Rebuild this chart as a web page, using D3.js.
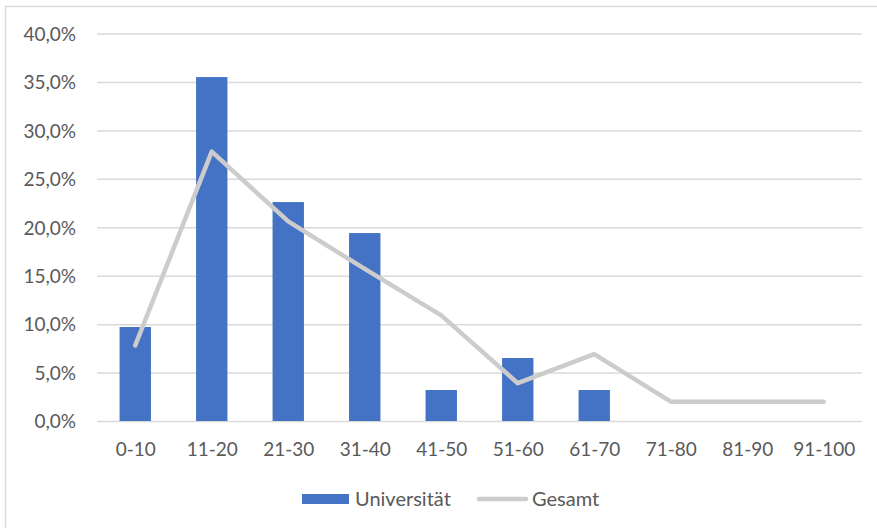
<!DOCTYPE html>
<html>
<head>
<meta charset="utf-8">
<script src="https://cdn.jsdelivr.net/npm/d3@7/dist/d3.min.js"></script>
<style>
  html, body { margin: 0; padding: 0; background: #fff; }
  svg { display: block; }
  text { font-family: Lato, "Open Sans", "Liberation Sans", sans-serif; fill: #595959; }
</style>
</head>
<body>
<svg id="chart" width="877" height="528"></svg>
<script>
// Altersgruppen (Kategorien der x-Achse)
const categories = ["0-10", "11-20", "21-30", "31-40", "41-50", "51-60", "61-70", "71-80", "81-90", "91-100"];
// Anteil je Gruppe in Prozent
const universitaet = [9.7, 35.5, 22.6, 19.4, 3.2, 6.5, 3.2, 0, 0, 0];
const gesamt = [7.8, 27.8, 20.6, 15.7, 10.9, 3.9, 6.9, 2.0, 2.0, 2.0];
// y-Achse: Teilstriche in Prozent
const yTicks = [0, 5, 10, 15, 20, 25, 30, 35, 40];
const seriesNames = ["Universität", "Gesamt"];

const svg = d3.select("#chart");
const plot = { left: 97, right: 862, top: 33.5, bottom: 421 };

// Rahmen um das Diagramm
svg.append("rect")
  .attr("x", 5.5).attr("y", 6.5)
  .attr("width", 900).attr("height", 560)
  .attr("fill", "none").attr("stroke", "#d9d9d9").attr("stroke-width", 1.5);

const x = d3.scaleBand().domain(categories).range([plot.left, plot.right])
  .paddingInner(0.59).paddingOuter(0.295);
const xc = d3.scalePoint().domain(categories).range([plot.left, plot.right]).padding(0.5);
const y = d3.scaleLinear().domain([0, 40]).range([plot.bottom, plot.top]);

const fmt = v => d3.format(".1f")(v).replace(".", ",") + "%";

// Gitterlinien und y-Beschriftung
const yAxis = d3.axisLeft(y).tickValues(yTicks).tickFormat(fmt)
  .tickSize(-(plot.right - plot.left)).tickPadding(21);
const gy = svg.append("g").attr("transform", `translate(${plot.left},0)`).call(yAxis);
gy.select(".domain").remove();
gy.selectAll(".tick line").attr("stroke", "#d9d9d9").attr("stroke-width", 1.5);
gy.selectAll(".tick text").attr("font-size", 19).attr("fill", "#595959")
  .attr("font-family", "Lato, 'Open Sans', sans-serif").attr("dy", "0.36em");

// Balken: Universität
svg.append("g").selectAll("rect").data(universitaet).join("rect")
  .attr("x", (d, i) => x(categories[i]))
  .attr("y", d => y(d))
  .attr("width", x.bandwidth())
  .attr("height", d => y(0) - y(d))
  .attr("fill", "#4472c4");

// Linie: Gesamt
const line = d3.line().x((d, i) => xc(categories[i])).y(d => y(d));
svg.append("path").datum(gesamt)
  .attr("d", line)
  .attr("fill", "none").attr("stroke", "#cccccc").attr("stroke-width", 4.5)
  .attr("stroke-linejoin", "round").attr("stroke-linecap", "round");

// x-Achse
const xAxis = d3.axisBottom(xc).tickSize(0).tickPadding(22);
const gx = svg.append("g").attr("transform", `translate(0,${plot.bottom})`).call(xAxis);
gx.select(".domain").remove();
gx.selectAll(".tick text").attr("font-size", 19).attr("fill", "#595959")
  .attr("font-family", "Lato, 'Open Sans', sans-serif");

// Legende
const lg = svg.append("g");
lg.append("rect").attr("x", 302).attr("y", 494).attr("width", 47).attr("height", 10).attr("fill", "#4472c4");
lg.append("text").attr("x", 355).attr("y", 505.5).attr("font-size", 20).text(seriesNames[0]);
lg.append("line").attr("x1", 479).attr("x2", 526).attr("y1", 499).attr("y2", 499)
  .attr("stroke", "#cccccc").attr("stroke-width", 4.5).attr("stroke-linecap", "round");
lg.append("text").attr("x", 532).attr("y", 505.5).attr("font-size", 20).text(seriesNames[1]);
</script>
</body>
</html>
